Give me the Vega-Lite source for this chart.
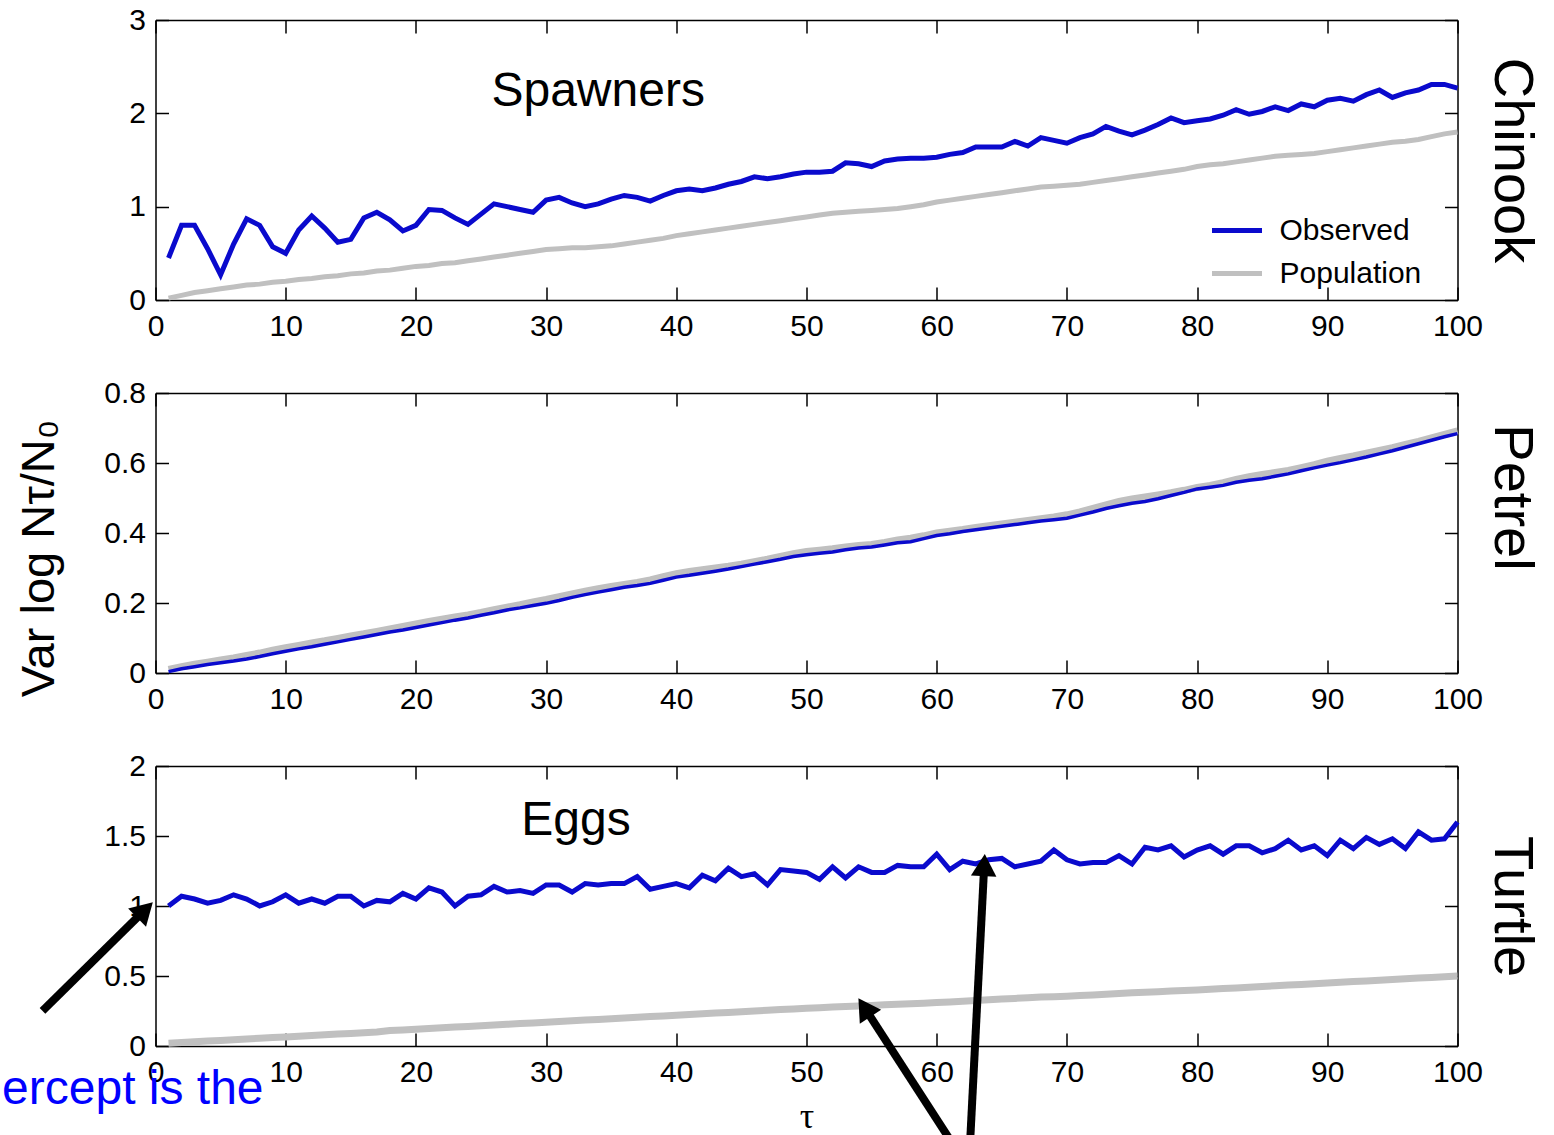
{
  "$schema": "https://vega.github.io/schema/vega-lite/v6.json",
  "padding": {"left": 1.5, "top": 5, "right": 0, "bottom": 0},
  "config": {
    "view": {"stroke": null},
    "font": "Liberation Sans",
    "axis": {"domainColor": "black", "domainWidth": 1.5, "tickColor": "black", "tickWidth": 1.5, "tickSize": -13, "labelColor": "black", "labelFont": "Liberation Sans", "labelFontSize": 30, "grid": false, "titleColor": "black", "titleFontWeight": "normal", "titleFont": "Liberation Sans", "labelOverlap": false, "labelFlush": false, "labelBound": false},
    "axisX": {"labelPadding": 24},
    "axisY": {"labelPadding": 23}
  },
  "datasets": {
    "chinook": [
      {"tau":1,"Observed":0.45,"Population":0.02},{"tau":2,"Observed":0.80,"Population":0.05},{"tau":3,"Observed":0.80,"Population":0.08},{"tau":4,"Observed":0.55,"Population":0.10},{"tau":5,"Observed":0.27,"Population":0.12},
      {"tau":6,"Observed":0.60,"Population":0.14},{"tau":7,"Observed":0.87,"Population":0.16},{"tau":8,"Observed":0.80,"Population":0.17},{"tau":9,"Observed":0.57,"Population":0.19},{"tau":10,"Observed":0.50,"Population":0.20},
      {"tau":11,"Observed":0.75,"Population":0.22},{"tau":12,"Observed":0.90,"Population":0.23},{"tau":13,"Observed":0.77,"Population":0.25},{"tau":14,"Observed":0.62,"Population":0.26},{"tau":15,"Observed":0.65,"Population":0.28},
      {"tau":16,"Observed":0.88,"Population":0.29},{"tau":17,"Observed":0.94,"Population":0.31},{"tau":18,"Observed":0.86,"Population":0.32},{"tau":19,"Observed":0.74,"Population":0.34},{"tau":20,"Observed":0.80,"Population":0.36},
      {"tau":21,"Observed":0.97,"Population":0.37},{"tau":22,"Observed":0.96,"Population":0.39},{"tau":23,"Observed":0.88,"Population":0.40},{"tau":24,"Observed":0.81,"Population":0.42},{"tau":25,"Observed":0.92,"Population":0.44},
      {"tau":26,"Observed":1.03,"Population":0.46},{"tau":27,"Observed":1.00,"Population":0.48},{"tau":28,"Observed":0.97,"Population":0.50},{"tau":29,"Observed":0.94,"Population":0.52},{"tau":30,"Observed":1.07,"Population":0.54},
      {"tau":31,"Observed":1.10,"Population":0.55},{"tau":32,"Observed":1.04,"Population":0.56},{"tau":33,"Observed":1.00,"Population":0.56},{"tau":34,"Observed":1.03,"Population":0.57},{"tau":35,"Observed":1.08,"Population":0.58},
      {"tau":36,"Observed":1.12,"Population":0.60},{"tau":37,"Observed":1.10,"Population":0.62},{"tau":38,"Observed":1.06,"Population":0.64},{"tau":39,"Observed":1.12,"Population":0.66},{"tau":40,"Observed":1.17,"Population":0.69},
      {"tau":41,"Observed":1.19,"Population":0.71},{"tau":42,"Observed":1.17,"Population":0.73},{"tau":43,"Observed":1.20,"Population":0.75},{"tau":44,"Observed":1.24,"Population":0.77},{"tau":45,"Observed":1.27,"Population":0.79},
      {"tau":46,"Observed":1.32,"Population":0.81},{"tau":47,"Observed":1.30,"Population":0.83},{"tau":48,"Observed":1.32,"Population":0.85},{"tau":49,"Observed":1.35,"Population":0.87},{"tau":50,"Observed":1.37,"Population":0.89},
      {"tau":51,"Observed":1.37,"Population":0.91},{"tau":52,"Observed":1.38,"Population":0.93},{"tau":53,"Observed":1.47,"Population":0.94},{"tau":54,"Observed":1.46,"Population":0.95},{"tau":55,"Observed":1.43,"Population":0.96},
      {"tau":56,"Observed":1.49,"Population":0.97},{"tau":57,"Observed":1.51,"Population":0.98},{"tau":58,"Observed":1.52,"Population":1.00},{"tau":59,"Observed":1.52,"Population":1.02},{"tau":60,"Observed":1.53,"Population":1.05},
      {"tau":61,"Observed":1.56,"Population":1.07},{"tau":62,"Observed":1.58,"Population":1.09},{"tau":63,"Observed":1.64,"Population":1.11},{"tau":64,"Observed":1.64,"Population":1.13},{"tau":65,"Observed":1.64,"Population":1.15},
      {"tau":66,"Observed":1.70,"Population":1.17},{"tau":67,"Observed":1.65,"Population":1.19},{"tau":68,"Observed":1.74,"Population":1.21},{"tau":69,"Observed":1.71,"Population":1.22},{"tau":70,"Observed":1.68,"Population":1.23},
      {"tau":71,"Observed":1.74,"Population":1.24},{"tau":72,"Observed":1.78,"Population":1.26},{"tau":73,"Observed":1.86,"Population":1.28},{"tau":74,"Observed":1.81,"Population":1.30},{"tau":75,"Observed":1.77,"Population":1.32},
      {"tau":76,"Observed":1.82,"Population":1.34},{"tau":77,"Observed":1.88,"Population":1.36},{"tau":78,"Observed":1.95,"Population":1.38},{"tau":79,"Observed":1.90,"Population":1.40},{"tau":80,"Observed":1.92,"Population":1.43},
      {"tau":81,"Observed":1.94,"Population":1.45},{"tau":82,"Observed":1.98,"Population":1.46},{"tau":83,"Observed":2.04,"Population":1.48},{"tau":84,"Observed":1.99,"Population":1.50},{"tau":85,"Observed":2.02,"Population":1.52},
      {"tau":86,"Observed":2.07,"Population":1.54},{"tau":87,"Observed":2.03,"Population":1.55},{"tau":88,"Observed":2.10,"Population":1.56},{"tau":89,"Observed":2.07,"Population":1.57},{"tau":90,"Observed":2.14,"Population":1.59},
      {"tau":91,"Observed":2.16,"Population":1.61},{"tau":92,"Observed":2.13,"Population":1.63},{"tau":93,"Observed":2.20,"Population":1.65},{"tau":94,"Observed":2.25,"Population":1.67},{"tau":95,"Observed":2.17,"Population":1.69},
      {"tau":96,"Observed":2.22,"Population":1.70},{"tau":97,"Observed":2.25,"Population":1.72},{"tau":98,"Observed":2.31,"Population":1.75},{"tau":99,"Observed":2.31,"Population":1.78},{"tau":100,"Observed":2.27,"Population":1.80}
    ],
    "petrel": [
      {"tau":1,"Observed":0.004,"Population":0.010},{"tau":2,"Observed":0.012,"Population":0.018},{"tau":3,"Observed":0.018,"Population":0.025},{"tau":4,"Observed":0.024,"Population":0.031},{"tau":5,"Observed":0.029,"Population":0.037},
      {"tau":6,"Observed":0.034,"Population":0.043},{"tau":7,"Observed":0.040,"Population":0.050},{"tau":8,"Observed":0.047,"Population":0.057},{"tau":9,"Observed":0.055,"Population":0.065},{"tau":10,"Observed":0.062,"Population":0.072},
      {"tau":11,"Observed":0.069,"Population":0.079},{"tau":12,"Observed":0.075,"Population":0.086},{"tau":13,"Observed":0.082,"Population":0.092},{"tau":14,"Observed":0.089,"Population":0.099},{"tau":15,"Observed":0.096,"Population":0.106},
      {"tau":16,"Observed":0.103,"Population":0.112},{"tau":17,"Observed":0.110,"Population":0.119},{"tau":18,"Observed":0.117,"Population":0.126},{"tau":19,"Observed":0.123,"Population":0.133},{"tau":20,"Observed":0.130,"Population":0.140},
      {"tau":21,"Observed":0.137,"Population":0.147},{"tau":22,"Observed":0.144,"Population":0.154},{"tau":23,"Observed":0.151,"Population":0.160},{"tau":24,"Observed":0.157,"Population":0.166},{"tau":25,"Observed":0.165,"Population":0.173},
      {"tau":26,"Observed":0.172,"Population":0.181},{"tau":27,"Observed":0.180,"Population":0.188},{"tau":28,"Observed":0.186,"Population":0.195},{"tau":29,"Observed":0.193,"Population":0.203},{"tau":30,"Observed":0.199,"Population":0.210},
      {"tau":31,"Observed":0.207,"Population":0.218},{"tau":32,"Observed":0.216,"Population":0.226},{"tau":33,"Observed":0.224,"Population":0.234},{"tau":34,"Observed":0.231,"Population":0.241},{"tau":35,"Observed":0.238,"Population":0.247},
      {"tau":36,"Observed":0.245,"Population":0.253},{"tau":37,"Observed":0.250,"Population":0.259},{"tau":38,"Observed":0.256,"Population":0.266},{"tau":39,"Observed":0.265,"Population":0.275},{"tau":40,"Observed":0.274,"Population":0.284},
      {"tau":41,"Observed":0.279,"Population":0.290},{"tau":42,"Observed":0.285,"Population":0.295},{"tau":43,"Observed":0.291,"Population":0.300},{"tau":44,"Observed":0.297,"Population":0.305},{"tau":45,"Observed":0.304,"Population":0.311},
      {"tau":46,"Observed":0.311,"Population":0.318},{"tau":47,"Observed":0.318,"Population":0.325},{"tau":48,"Observed":0.325,"Population":0.333},{"tau":49,"Observed":0.333,"Population":0.341},{"tau":50,"Observed":0.338,"Population":0.347},
      {"tau":51,"Observed":0.342,"Population":0.351},{"tau":52,"Observed":0.346,"Population":0.355},{"tau":53,"Observed":0.352,"Population":0.360},{"tau":54,"Observed":0.357,"Population":0.364},{"tau":55,"Observed":0.360,"Population":0.367},
      {"tau":56,"Observed":0.366,"Population":0.373},{"tau":57,"Observed":0.372,"Population":0.380},{"tau":58,"Observed":0.375,"Population":0.385},{"tau":59,"Observed":0.384,"Population":0.392},{"tau":60,"Observed":0.393,"Population":0.400},
      {"tau":61,"Observed":0.398,"Population":0.405},{"tau":62,"Observed":0.404,"Population":0.410},{"tau":63,"Observed":0.409,"Population":0.416},{"tau":64,"Observed":0.414,"Population":0.421},{"tau":65,"Observed":0.419,"Population":0.426},
      {"tau":66,"Observed":0.424,"Population":0.431},{"tau":67,"Observed":0.429,"Population":0.436},{"tau":68,"Observed":0.434,"Population":0.441},{"tau":69,"Observed":0.438,"Population":0.446},{"tau":70,"Observed":0.442,"Population":0.452},
      {"tau":71,"Observed":0.451,"Population":0.460},{"tau":72,"Observed":0.460,"Population":0.470},{"tau":73,"Observed":0.470,"Population":0.480},{"tau":74,"Observed":0.478,"Population":0.490},{"tau":75,"Observed":0.485,"Population":0.497},
      {"tau":76,"Observed":0.490,"Population":0.503},{"tau":77,"Observed":0.498,"Population":0.509},{"tau":78,"Observed":0.507,"Population":0.515},{"tau":79,"Observed":0.516,"Population":0.522},{"tau":80,"Observed":0.526,"Population":0.530},
      {"tau":81,"Observed":0.531,"Population":0.536},{"tau":82,"Observed":0.536,"Population":0.544},{"tau":83,"Observed":0.545,"Population":0.553},{"tau":84,"Observed":0.551,"Population":0.561},{"tau":85,"Observed":0.555,"Population":0.567},
      {"tau":86,"Observed":0.562,"Population":0.573},{"tau":87,"Observed":0.569,"Population":0.579},{"tau":88,"Observed":0.578,"Population":0.587},{"tau":89,"Observed":0.586,"Population":0.595},{"tau":90,"Observed":0.594,"Population":0.605},
      {"tau":91,"Observed":0.601,"Population":0.613},{"tau":92,"Observed":0.609,"Population":0.620},{"tau":93,"Observed":0.617,"Population":0.628},{"tau":94,"Observed":0.626,"Population":0.636},{"tau":95,"Observed":0.635,"Population":0.644},
      {"tau":96,"Observed":0.645,"Population":0.653},{"tau":97,"Observed":0.655,"Population":0.662},{"tau":98,"Observed":0.665,"Population":0.672},{"tau":99,"Observed":0.675,"Population":0.682},{"tau":100,"Observed":0.684,"Population":0.692}
    ],
    "turtle": [
      {"tau":1,"Observed":1.00,"Population":0.020},{"tau":2,"Observed":1.07,"Population":0.025},{"tau":3,"Observed":1.05,"Population":0.030},{"tau":4,"Observed":1.02,"Population":0.035},{"tau":5,"Observed":1.04,"Population":0.040},
      {"tau":6,"Observed":1.08,"Population":0.045},{"tau":7,"Observed":1.05,"Population":0.050},{"tau":8,"Observed":1.00,"Population":0.055},{"tau":9,"Observed":1.03,"Population":0.060},{"tau":10,"Observed":1.08,"Population":0.065},
      {"tau":11,"Observed":1.02,"Population":0.070},{"tau":12,"Observed":1.05,"Population":0.075},{"tau":13,"Observed":1.02,"Population":0.080},{"tau":14,"Observed":1.07,"Population":0.085},{"tau":15,"Observed":1.07,"Population":0.090},
      {"tau":16,"Observed":1.00,"Population":0.095},{"tau":17,"Observed":1.04,"Population":0.100},{"tau":18,"Observed":1.03,"Population":0.110},{"tau":19,"Observed":1.09,"Population":0.115},{"tau":20,"Observed":1.05,"Population":0.120},
      {"tau":21,"Observed":1.13,"Population":0.125},{"tau":22,"Observed":1.10,"Population":0.130},{"tau":23,"Observed":1.00,"Population":0.135},{"tau":24,"Observed":1.07,"Population":0.140},{"tau":25,"Observed":1.08,"Population":0.145},
      {"tau":26,"Observed":1.14,"Population":0.150},{"tau":27,"Observed":1.10,"Population":0.155},{"tau":28,"Observed":1.11,"Population":0.160},{"tau":29,"Observed":1.09,"Population":0.165},{"tau":30,"Observed":1.15,"Population":0.170},
      {"tau":31,"Observed":1.15,"Population":0.175},{"tau":32,"Observed":1.10,"Population":0.180},{"tau":33,"Observed":1.16,"Population":0.185},{"tau":34,"Observed":1.15,"Population":0.190},{"tau":35,"Observed":1.16,"Population":0.195},
      {"tau":36,"Observed":1.16,"Population":0.200},{"tau":37,"Observed":1.21,"Population":0.205},{"tau":38,"Observed":1.12,"Population":0.210},{"tau":39,"Observed":1.14,"Population":0.215},{"tau":40,"Observed":1.16,"Population":0.220},
      {"tau":41,"Observed":1.13,"Population":0.225},{"tau":42,"Observed":1.22,"Population":0.230},{"tau":43,"Observed":1.18,"Population":0.235},{"tau":44,"Observed":1.27,"Population":0.240},{"tau":45,"Observed":1.21,"Population":0.245},
      {"tau":46,"Observed":1.23,"Population":0.250},{"tau":47,"Observed":1.15,"Population":0.255},{"tau":48,"Observed":1.26,"Population":0.260},{"tau":49,"Observed":1.25,"Population":0.265},{"tau":50,"Observed":1.24,"Population":0.270},
      {"tau":51,"Observed":1.19,"Population":0.274},{"tau":52,"Observed":1.28,"Population":0.278},{"tau":53,"Observed":1.20,"Population":0.282},{"tau":54,"Observed":1.28,"Population":0.286},{"tau":55,"Observed":1.24,"Population":0.290},
      {"tau":56,"Observed":1.24,"Population":0.294},{"tau":57,"Observed":1.29,"Population":0.298},{"tau":58,"Observed":1.28,"Population":0.302},{"tau":59,"Observed":1.28,"Population":0.306},{"tau":60,"Observed":1.37,"Population":0.310},
      {"tau":61,"Observed":1.26,"Population":0.315},{"tau":62,"Observed":1.32,"Population":0.320},{"tau":63,"Observed":1.30,"Population":0.325},{"tau":64,"Observed":1.33,"Population":0.330},{"tau":65,"Observed":1.34,"Population":0.335},
      {"tau":66,"Observed":1.28,"Population":0.340},{"tau":67,"Observed":1.30,"Population":0.345},{"tau":68,"Observed":1.32,"Population":0.350},{"tau":69,"Observed":1.40,"Population":0.352},{"tau":70,"Observed":1.33,"Population":0.355},
      {"tau":71,"Observed":1.30,"Population":0.360},{"tau":72,"Observed":1.31,"Population":0.365},{"tau":73,"Observed":1.31,"Population":0.370},{"tau":74,"Observed":1.36,"Population":0.375},{"tau":75,"Observed":1.30,"Population":0.380},
      {"tau":76,"Observed":1.42,"Population":0.384},{"tau":77,"Observed":1.40,"Population":0.388},{"tau":78,"Observed":1.43,"Population":0.392},{"tau":79,"Observed":1.35,"Population":0.396},{"tau":80,"Observed":1.40,"Population":0.400},
      {"tau":81,"Observed":1.43,"Population":0.405},{"tau":82,"Observed":1.37,"Population":0.410},{"tau":83,"Observed":1.43,"Population":0.415},{"tau":84,"Observed":1.43,"Population":0.420},{"tau":85,"Observed":1.38,"Population":0.425},
      {"tau":86,"Observed":1.41,"Population":0.430},{"tau":87,"Observed":1.47,"Population":0.435},{"tau":88,"Observed":1.40,"Population":0.440},{"tau":89,"Observed":1.43,"Population":0.445},{"tau":90,"Observed":1.36,"Population":0.450},
      {"tau":91,"Observed":1.47,"Population":0.455},{"tau":92,"Observed":1.41,"Population":0.460},{"tau":93,"Observed":1.49,"Population":0.465},{"tau":94,"Observed":1.44,"Population":0.470},{"tau":95,"Observed":1.48,"Population":0.475},
      {"tau":96,"Observed":1.41,"Population":0.480},{"tau":97,"Observed":1.53,"Population":0.485},{"tau":98,"Observed":1.47,"Population":0.490},{"tau":99,"Observed":1.48,"Population":0.495},{"tau":100,"Observed":1.60,"Population":0.500}
    ]
  },
  "spacing": 93,
  "bounds": "flush",
  "resolve": {"scale": {"color": "independent"}, "legend": {"color": "independent"}},
  "vconcat": [
    {
      "width": 1302, "height": 280,
      "data": {"name": "chinook"},
      "resolve": {"axis": {"x": "independent", "y": "independent"}},
      "layer": [
        {
          "mark": {"type": "line", "strokeWidth": 5},
          "encoding": {
            "x": {"field": "tau", "type": "quantitative", "scale": {"domain": [0, 100]}, "axis": {"orient": "bottom", "values": [0,10,20,30,40,50,60,70,80,90,100], "title": null}},
            "y": {"field": "Population", "type": "quantitative", "scale": {"domain": [0, 3]}, "axis": {"orient": "left", "values": [0,1,2,3], "format": "~g", "title": null}},
            "color": {"datum": "Population", "type": "nominal", "scale": {"domain": ["Observed", "Population"], "range": ["#0A0ACD", "#C0C0C0"]},
              "legend": {"title": null, "orient": "none", "legendX": 1054, "legendY": 183, "symbolType": "stroke", "symbolSize": 2500, "symbolStrokeWidth": 5, "labelFontSize": 30, "labelFont": "Liberation Sans", "labelColor": "black", "rowPadding": -27, "labelOffset": 15, "padding": 0}}
          }
        },
        {
          "mark": {"type": "line", "strokeWidth": 5},
          "encoding": {
            "x": {"field": "tau", "type": "quantitative", "scale": {"domain": [0, 100]}, "axis": {"orient": "top", "values": [0,10,20,30,40,50,60,70,80,90,100], "labels": false, "title": null}},
            "y": {"field": "Observed", "type": "quantitative", "scale": {"domain": [0, 3]}, "axis": {"orient": "right", "values": [0,1,2,3], "labels": false, "title": "Chinook", "titleAngle": 90, "titleFontSize": 56, "titlePadding": 24}},
            "color": {"datum": "Observed", "type": "nominal"}
          }
        },
        {
          "data": {"values": [{"tau": 34, "v": 2.23, "label": "Spawners"}]},
          "mark": {"type": "text", "fontSize": 48, "font": "Liberation Sans", "color": "black", "align": "center", "baseline": "middle"},
          "encoding": {
            "x": {"field": "tau", "type": "quantitative", "axis": null},
            "y": {"field": "v", "type": "quantitative", "axis": null},
            "text": {"field": "label"}
          }
        }
      ]
    },
    {
      "width": 1302, "height": 280,
      "data": {"name": "petrel"},
      "resolve": {"axis": {"x": "independent", "y": "independent"}},
      "layer": [
        {
          "mark": {"type": "line", "strokeWidth": 7},
          "encoding": {
            "x": {"field": "tau", "type": "quantitative", "scale": {"domain": [0, 100]}, "axis": {"orient": "bottom", "values": [0,10,20,30,40,50,60,70,80,90,100], "title": null}},
            "y": {"field": "Population", "type": "quantitative", "scale": {"domain": [0, 0.8]}, "axis": {"orient": "left", "values": [0,0.2,0.4,0.6,0.8], "format": "~g", "title": "Var log Nτ/N₀", "titleFontSize": 47, "titlePadding": 40, "titleY": 165}},
            "color": {"datum": "Population", "type": "nominal", "scale": {"domain": ["Observed", "Population"], "range": ["#0A0ACD", "#C0C0C0"]}, "legend": null}
          }
        },
        {
          "mark": {"type": "line", "strokeWidth": 3.5},
          "encoding": {
            "x": {"field": "tau", "type": "quantitative", "scale": {"domain": [0, 100]}, "axis": {"orient": "top", "values": [0,10,20,30,40,50,60,70,80,90,100], "labels": false, "title": null}},
            "y": {"field": "Observed", "type": "quantitative", "scale": {"domain": [0, 0.8]}, "axis": {"orient": "right", "values": [0,0.2,0.4,0.6,0.8], "labels": false, "title": "Petrel", "titleAngle": 90, "titleFontSize": 56, "titlePadding": 24, "titleY": 104}},
            "color": {"datum": "Observed", "type": "nominal"}
          }
        }
      ]
    },
    {
      "width": 1302, "height": 280,
      "data": {"name": "turtle"},
      "resolve": {"axis": {"x": "independent", "y": "independent"}},
      "layer": [
        {
          "mark": {"type": "line", "strokeWidth": 7},
          "encoding": {
            "x": {"field": "tau", "type": "quantitative", "scale": {"domain": [0, 100]}, "axis": {"orient": "bottom", "values": [0,10,20,30,40,50,60,70,80,90,100], "title": "τ", "titleFont": "Liberation Serif", "titleFontSize": 36, "titlePadding": 12}},
            "y": {"field": "Population", "type": "quantitative", "scale": {"domain": [0, 2]}, "axis": {"orient": "left", "values": [0,0.5,1,1.5,2], "format": "~g", "title": null}},
            "color": {"datum": "Population", "type": "nominal", "scale": {"domain": ["Observed", "Population"], "range": ["#0A0ACD", "#C0C0C0"]}, "legend": null}
          }
        },
        {
          "mark": {"type": "line", "strokeWidth": 5},
          "encoding": {
            "x": {"field": "tau", "type": "quantitative", "scale": {"domain": [0, 100]}, "axis": {"orient": "top", "values": [0,10,20,30,40,50,60,70,80,90,100], "labels": false, "title": null}},
            "y": {"field": "Observed", "type": "quantitative", "scale": {"domain": [0, 2]}, "axis": {"orient": "right", "values": [0,0.5,1,1.5,2], "labels": false, "title": "Turtle", "titleAngle": 90, "titleFontSize": 56, "titlePadding": 24}},
            "color": {"datum": "Observed", "type": "nominal"}
          }
        },
        {
          "data": {"values": [{"tau": 32.3, "v": 1.61, "label": "Eggs"}]},
          "mark": {"type": "text", "fontSize": 48, "font": "Liberation Sans", "color": "black", "align": "center", "baseline": "middle"},
          "encoding": {
            "x": {"field": "tau", "type": "quantitative", "axis": null},
            "y": {"field": "v", "type": "quantitative", "axis": null},
            "text": {"field": "label"}
          }
        },
        {
          "data": {"values": [{"tau": 8.3, "v": -0.416, "label": "ercept is the"}]},
          "mark": {"type": "text", "fontSize": 48, "font": "Liberation Sans", "color": "#0000FF", "align": "right", "baseline": "alphabetic"},
          "encoding": {
            "x": {"field": "tau", "type": "quantitative", "axis": null},
            "y": {"field": "v", "type": "quantitative", "axis": null},
            "text": {"field": "label"}
          }
        },
        {
          "data": {"values": [
            {"tau": -8.68, "v": 0.251, "tau2": -0.81, "v2": 0.972},
            {"tau": 61.6, "v": -0.753, "tau2": 54.45, "v2": 0.275},
            {"tau": 62.53, "v": -0.753, "tau2": 63.65, "v2": 1.292}
          ]},
          "mark": {"type": "rule", "strokeWidth": 8, "color": "black"},
          "encoding": {
            "x": {"field": "tau", "type": "quantitative", "axis": null},
            "y": {"field": "v", "type": "quantitative", "axis": null},
            "x2": {"field": "tau2"},
            "y2": {"field": "v2"}
          }
        },
        {
          "data": {"values": [{"tau": -0.81, "v": 0.972}]},
          "mark": {"type": "point", "shape": "triangle-up", "size": 650, "filled": true, "color": "black", "opacity": 1, "angle": 45.5},
          "encoding": {
            "x": {"field": "tau", "type": "quantitative", "axis": null},
            "y": {"field": "v", "type": "quantitative", "axis": null}
          }
        },
        {
          "data": {"values": [{"tau": 54.45, "v": 0.275}]},
          "mark": {"type": "point", "shape": "triangle-up", "size": 650, "filled": true, "color": "black", "opacity": 1, "angle": -33.2},
          "encoding": {
            "x": {"field": "tau", "type": "quantitative", "axis": null},
            "y": {"field": "v", "type": "quantitative", "axis": null}
          }
        },
        {
          "data": {"values": [{"tau": 63.65, "v": 1.292}]},
          "mark": {"type": "point", "shape": "triangle-up", "size": 650, "filled": true, "color": "black", "opacity": 1, "angle": 2.9},
          "encoding": {
            "x": {"field": "tau", "type": "quantitative", "axis": null},
            "y": {"field": "v", "type": "quantitative", "axis": null}
          }
        }
      ]
    }
  ]
}
